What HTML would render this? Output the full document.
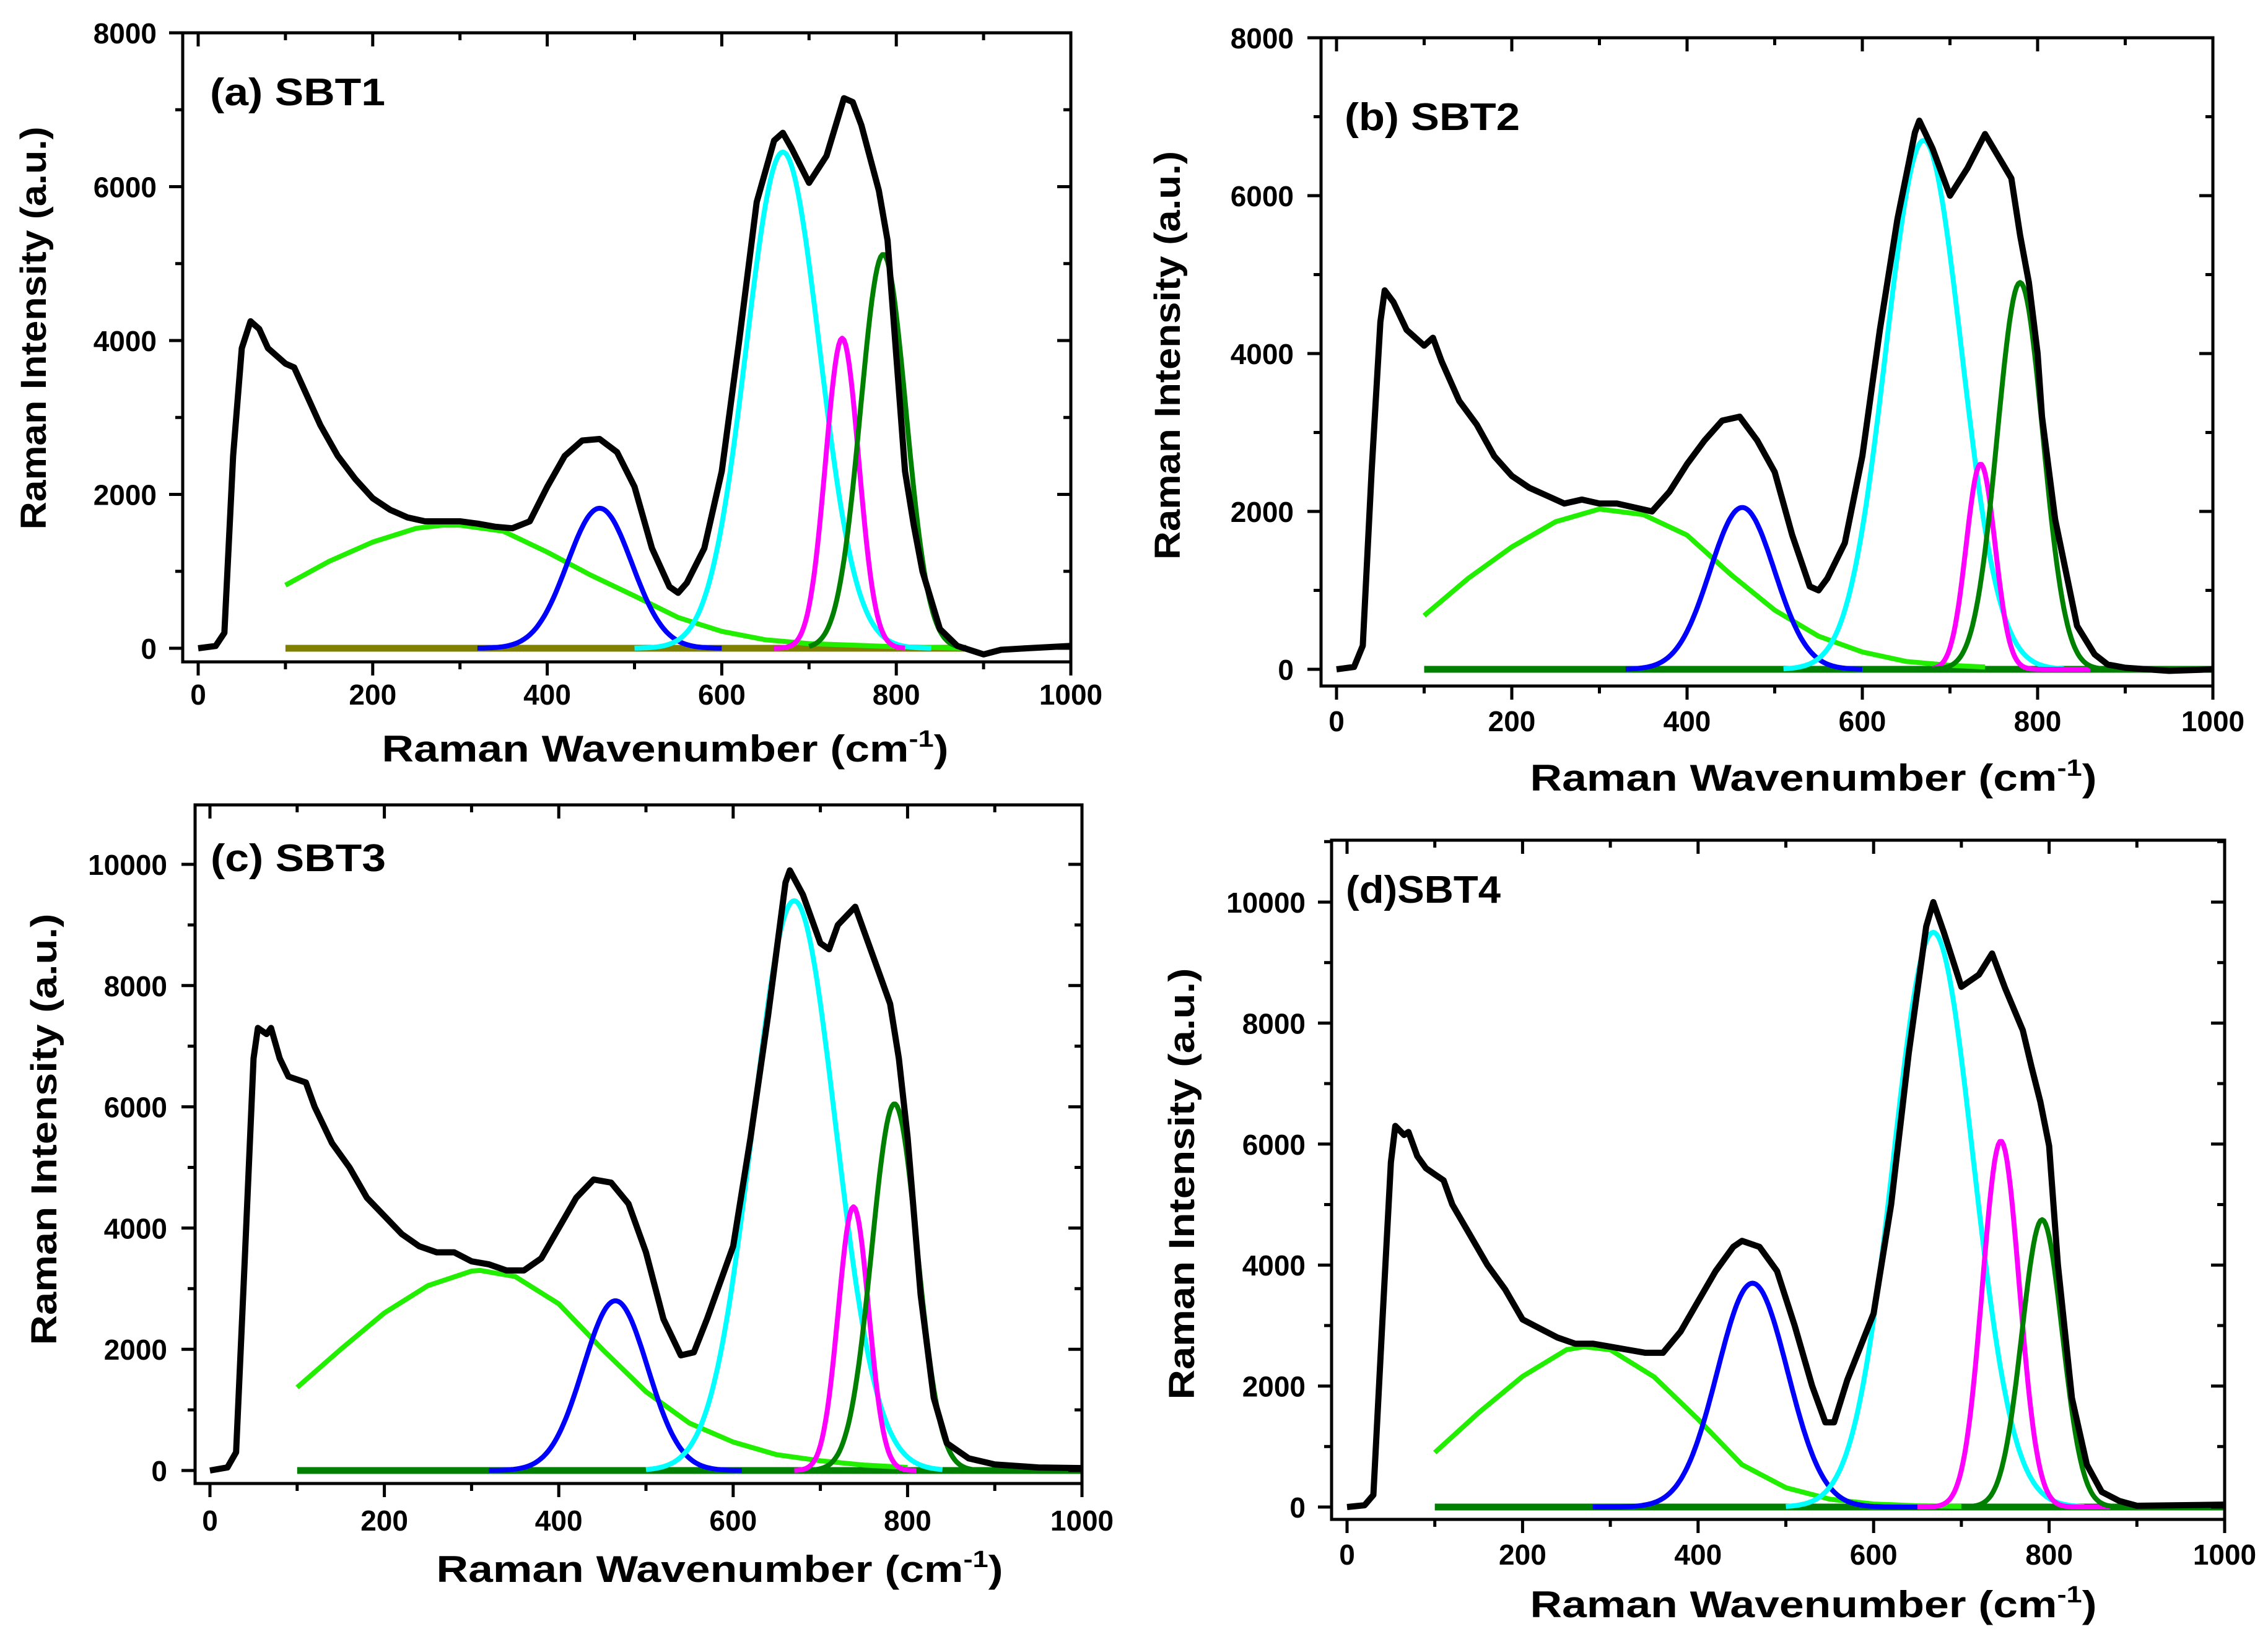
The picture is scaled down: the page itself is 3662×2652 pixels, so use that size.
<!DOCTYPE html>
<html><head><meta charset="utf-8"><title>Raman spectra SBT1-SBT4</title>
<style>
html,body{margin:0;padding:0;background:#fff;}
svg{display:block;}
text{font-family:"Liberation Sans",Arial,sans-serif;fill:#000;}
</style></head>
<body>
<svg id="fig" xmlns="http://www.w3.org/2000/svg" width="3662" height="2652" viewBox="0 0 3662 2652"></svg>
<script>
// ---------- data ----------
const aSpecX=[0,20,30,40,50,60,70,80,100,110,120,140,160,180,200,220,240,260,280,300,320,340,360,380,400,420,440,460,480,500,520,540,550,560,580,600,620,640,660,670,680,700,720,740,750,760,780,790,800,810,820,830,850,870,900,920,950,1000];
const aSpecY=[0,30,200,2500,3900,4250,4150,3900,3700,3650,3400,2900,2500,2200,1950,1800,1700,1650,1650,1650,1620,1580,1560,1650,2100,2500,2700,2720,2550,2100,1300,800,720,850,1300,2300,4000,5800,6600,6700,6500,6050,6400,7150,7100,6800,5950,5300,3800,2300,1600,1000,250,30,-80,-20,0,30];
const bSpecX=[0,20,30,40,50,55,65,80,100,110,120,140,160,180,200,220,240,260,280,300,320,340,360,380,400,420,440,460,480,500,520,540,550,560,580,600,620,640,660,665,680,700,720,740,770,780,790,800,805,820,845,865,880,900,950,1000];
const bSpecY=[0,30,300,2500,4400,4800,4650,4300,4100,4200,3900,3400,3100,2700,2450,2300,2200,2100,2150,2100,2100,2050,2000,2250,2600,2900,3150,3200,2900,2500,1700,1050,1000,1150,1600,2700,4300,5700,6800,6950,6600,6000,6350,6780,6220,5500,4900,4000,3200,1900,550,190,60,20,-20,0];
const cSpecX=[0,20,30,40,50,55,65,70,80,90,110,120,140,160,180,200,220,240,260,280,300,320,340,360,380,400,420,440,460,480,500,520,540,555,570,600,620,640,660,665,680,700,710,720,740,750,770,780,790,800,815,830,845,870,900,950,1000];
const cSpecY=[0,50,300,3500,6800,7300,7200,7300,6800,6500,6400,6000,5400,5000,4500,4200,3900,3700,3600,3600,3450,3400,3300,3300,3500,4000,4500,4800,4750,4400,3600,2500,1900,1950,2500,3700,5500,7500,9700,9900,9500,8700,8600,9000,9300,8900,8100,7700,6800,5500,2900,1200,450,200,100,50,40];
const dSpecX=[0,20,30,40,50,55,65,70,80,90,100,110,120,140,160,180,200,220,240,260,280,300,320,340,360,380,400,420,440,450,470,490,510,530,545,555,570,600,620,640,660,668,680,700,720,735,750,770,780,790,800,810,826,843,860,880,900,1000];
const dSpecY=[0,30,200,3000,5700,6300,6150,6200,5800,5600,5500,5400,5000,4500,4000,3600,3100,2950,2800,2700,2700,2650,2600,2550,2550,2900,3400,3900,4300,4400,4300,3900,3000,2000,1400,1400,2100,3200,5000,7500,9600,10000,9500,8600,8800,9150,8570,7880,7270,6700,5970,4000,1800,700,250,100,20,40];
const aBgX=[100,150,200,250,280,300,350,400,450,500,550,600,650,700,800,880];
const aBgY=[820,1130,1380,1560,1600,1600,1520,1250,950,680,400,220,110,60,20,0];
const bBgX=[100,150,200,250,300,350,400,450,500,550,600,650,700,740];
const bBgY=[680,1150,1550,1870,2030,1960,1700,1200,750,420,220,100,50,30];
const cBgX=[100,150,200,250,300,310,350,400,450,500,550,600,650,700,750,800];
const cBgY=[1370,2000,2600,3050,3290,3300,3200,2750,2000,1300,780,470,260,160,90,50];
const dBgX=[100,150,200,250,270,300,350,400,450,500,550,600,650,700];
const dBgY=[900,1560,2160,2600,2650,2600,2150,1450,700,320,130,50,20,10];
const aCenters=[460,670,738,785]; const aHeights=[1820,6450,4030,5120]; const aSigmas=[37,42,19,26];
const aFrom=[320,500,660,700]; const aTo=[600,840,810,880];
const bCenters=[463,670,735,780]; const bHeights=[2050,6700,2600,4900]; const bSigmas=[37,43,16.5,26];
const bFrom=[330,510,680,680]; const bTo=[600,830,860,880];
const cCenters=[465,670,738,785]; const cHeights=[2800,9400,4350,6050]; const cSigmas=[37,47.5,17.5,26];
const cFrom=[320,500,670,690]; const cTo=[610,840,810,880];
const dCenters=[462,668,745,792]; const dHeights=[3700,9500,6050,4750]; const dSigmas=[40,45.5,21,23];
const dFrom=[280,500,650,700]; const dTo=[650,840,870,880];
const xTicks=[0,200,400,600,800,1000];
const yTicksA=[0,2000,4000,6000,8000];
const yTicksC=[0,2000,4000,6000,8000,10000];

// ---------- layout ----------
const NS="http://www.w3.org/2000/svg";
const svg=document.getElementById('fig');
const peakColors=['#0000ff','#00ffff','#ff00ff','#008000'];
const peakNames=['blue','cyan','magenta','darkgreen'];
const panels=[
 {id:'a',label:'(a) SBT1',L:295,R:1729,T:53,B:1069,x0px:320,y0px:1047,ytop:8000,ytopPx:53,ymaj:yTicksA,specX:aSpecX,specY:aSpecY,bgX:aBgX,bgY:aBgY,c:aCenters,h:aHeights,s:aSigmas,f:aFrom,t:aTo,base:'#808000',baseTo:880,
  lab:[339,170,62,283],xt:[1138],xtitle:[1074,1230],ytitle:[53,530,651],ytl:253},
 {id:'b',label:'(b) SBT2',L:2133,R:3573,T:61,B:1108,x0px:2158,y0px:1081,ytop:8000,ytopPx:61,ymaj:yTicksA,specX:bSpecX,specY:bSpecY,bgX:bBgX,bgY:bBgY,c:bCenters,h:bHeights,s:bSigmas,f:bFrom,t:bTo,base:'#008000',baseTo:1000,
  lab:[2171,210,62,283],xt:[1181],xtitle:[2928,1277],ytitle:[1884,574,660],ytl:2089},
 {id:'c',label:'(c) SBT3',L:315,R:1747,T:1300,B:2396,x0px:339,y0px:2375,ytop:10000,ytopPx:1396,ymaj:yTicksC,specX:cSpecX,specY:cSpecY,bgX:cBgX,bgY:cBgY,c:cCenters,h:cHeights,s:cSigmas,f:cFrom,t:cTo,base:'#008000',baseTo:1000,
  lab:[340,1407,62,283],xt:[2472],xtitle:[1162,2555],ytitle:[70,1824,697],ytl:270},
 {id:'d',label:'(d)SBT4',L:2150,R:3592,T:1357,B:2454,x0px:2175,y0px:2434,ytop:10000,ytopPx:1457,ymaj:yTicksC,specX:dSpecX,specY:dSpecY,bgX:dBgX,bgY:dBgY,c:dCenters,h:dHeights,s:dSigmas,f:dFrom,t:dTo,base:'#008000',baseTo:1000,
  lab:[2173,1458,62,250],xt:[2527],xtitle:[2928,2612],ytitle:[1907,1912,697],ytl:2108}
];

function el(tag,attrs,parent){const e=document.createElementNS(NS,tag);for(const k in attrs)e.setAttribute(k,attrs[k]);(parent||svg).appendChild(e);return e;}
function stretch(t,f){const w=t.getComputedTextLength();t.setAttribute('textLength',(w*f).toFixed(1));t.setAttribute('lengthAdjust','spacingAndGlyphs');}

panels.forEach(p=>{
  const g=el('g',{});
  
  
  const xs=v=>p.x0px+(v/1000)*(p.R-p.x0px);
  const ys=v=>p.y0px-(v/p.ytop)*(p.y0px-p.ytopPx);
  const cp=el('clipPath',{id:'clip'+p.id},g);
  el('rect',{x:p.L,y:p.T,width:p.R-p.L,height:p.B-p.T},cp);
  const plot=el('g',{'clip-path':'url(#clip'+p.id+')'},g);
  
  
  const bl=el('line',{x1:xs(100),x2:xs(p.baseTo),y1:ys(0),y2:ys(0),stroke:p.base,'stroke-width':11},plot);
  
  
  let d='';p.bgX.forEach((x,i)=>{d+=(i?'L':'M')+xs(x).toFixed(1)+','+ys(p.bgY[i]).toFixed(1);});
  const bg=el('path',{d:d,fill:'none',stroke:'#22ee00','stroke-width':8,'stroke-linejoin':'round'},plot);
  
  
  p.c.forEach((c,k)=>{
    let pd='';
    for(let x=p.f[k],i=0;x<=p.t[k];x+=2,i++){
      const v=p.h[k]*Math.exp(-((x-c)*(x-c))/(2*p.s[k]*p.s[k]));
      pd+=(i?'L':'M')+xs(x).toFixed(1)+','+ys(v).toFixed(1);
    }
    const pk=el('path',{d:pd,fill:'none',stroke:peakColors[k],'stroke-width':8,'stroke-linejoin':'round'},plot);
    
    
  });
  let sd='';p.specX.forEach((x,i)=>{sd+=(i?'L':'M')+xs(x).toFixed(1)+','+ys(p.specY[i]).toFixed(1);});
  const sp=el('path',{d:sd,fill:'none',stroke:'#000','stroke-width':10,'stroke-linejoin':'round'},plot);
  
  
  const fr=el('rect',{x:p.L,y:p.T,width:p.R-p.L,height:p.B-p.T,fill:'none',stroke:'#000','stroke-width':5},g);
  
  
  for(let v=0;v<=1000;v+=100){
    const X=xs(v),maj=v%200===0,len=maj?22:12;
    el('line',{x1:X,x2:X,y1:p.B,y2:p.B+len,stroke:'#000','stroke-width':5},g);
    el('line',{x1:X,x2:X,y1:p.T,y2:p.T+len,stroke:'#000','stroke-width':5},g);
  }
  xTicks.forEach(v=>{
    const t=el('text',{x:xs(v),y:p.xt[0],'text-anchor':'middle','font-size':46,'font-weight':'bold'},g);
    t.textContent=v;
    
    
    stretch(t,1.0);
  });
  for(let v=0;v<=p.ytop+1000;v+=1000){
    const Y=ys(v); if(Y<p.T-1) break;
    const maj=v%2000===0,len=maj?22:12;
    el('line',{x1:p.L-len,x2:p.L,y1:Y,y2:Y,stroke:'#000','stroke-width':5},g);
    el('line',{x1:p.R-len,x2:p.R,y1:Y,y2:Y,stroke:'#000','stroke-width':5},g);
  }
  p.ymaj.forEach(v=>{
    const t=el('text',{x:p.ytl,y:ys(v)+17,'text-anchor':'end','font-size':46,'font-weight':'bold'},g);
    t.textContent=v;
    
    
    stretch(t,1.0);
  });
  const lb=el('text',{x:p.lab[0],y:p.lab[1],'font-size':p.lab[2],'font-weight':'bold'},g);
  lb.textContent=p.label;
  
  
  lb.setAttribute('textLength',p.lab[3]);lb.setAttribute('lengthAdjust','spacingAndGlyphs');
  const xt=el('text',{x:p.xtitle[0],y:p.xtitle[1],'text-anchor':'middle','font-size':60,'font-weight':'bold'},g);
  
  
  xt.appendChild(document.createTextNode('Raman Wavenumber (cm'));
  const sup=el('tspan',{'font-size':38,dy:-24},xt);sup.textContent='-1';
  const cl=el('tspan',{'font-size':60,dy:24},xt);cl.textContent=')';
  xt.setAttribute('textLength',915);xt.setAttribute('lengthAdjust','spacingAndGlyphs');
  const yt=el('text',{x:0,y:0,'text-anchor':'middle','font-size':58,'font-weight':'bold',transform:'translate('+(p.ytitle[0]+21)+','+p.ytitle[1]+') rotate(-90)'},g);
  yt.textContent='Raman Intensity (a.u.)';
  
  
  yt.setAttribute('textLength',p.ytitle[2]);yt.setAttribute('lengthAdjust','spacingAndGlyphs');
});
</script>
</body></html>
